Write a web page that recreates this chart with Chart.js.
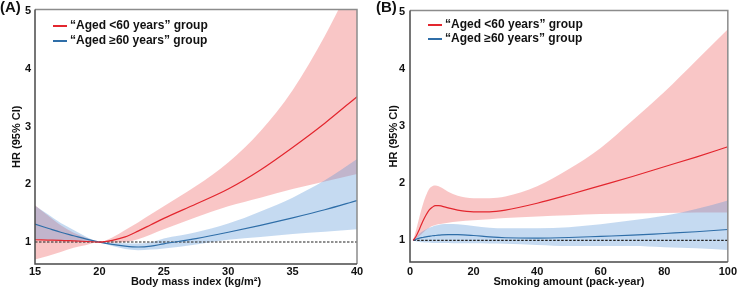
<!DOCTYPE html>
<html>
<head>
<meta charset="utf-8">
<script src="https://cdn.jsdelivr.net/npm/chart.js@4.4.1/dist/chart.umd.min.js"></script>
<style>
  body { margin: 0; background: #fff; font-family: "Liberation Sans", Arial, sans-serif; }
  #wrap { position: relative; width: 740px; height: 291px; overflow: hidden; }
  .panel { position: absolute; top: 0; width: 370px; height: 291px; }
  .tag { position: absolute; font-weight: bold; font-size: 15px; color: #111; }
  .legend { position: absolute; font-weight: bold; font-size: 12px; color: #111; }
  .legend div { white-space: nowrap; }
  .legend i { display: inline-block; width: 14px; height: 1.5px; vertical-align: middle; margin-right: 3px; }
</style>
</head>
<body>
<div id="wrap">
  <div class="panel" style="left:0"><canvas id="chartA" width="370" height="291"></canvas></div>
  <div class="panel" style="left:370px"><canvas id="chartB" width="370" height="291"></canvas></div>
  <div class="tag" style="left:0;top:-2px">(A)</div>
  <div class="tag" style="left:376px;top:-2px">(B)</div>
  <div class="legend" style="left:53px;top:18px">
    <div style="height:15px;line-height:15px"><i style="background:#e3262e"></i>“Aged &lt;60 years” group</div>
    <div style="height:15px;line-height:15px"><i style="background:#2f6ea8"></i>“Aged ≥60 years” group</div>
  </div>
  <div class="legend" style="left:428px;top:17px">
    <div style="height:14px;line-height:14px"><i style="background:#e3262e"></i>“Aged &lt;60 years” group</div>
    <div style="height:14px;line-height:14px"><i style="background:#2f6ea8"></i>“Aged ≥60 years” group</div>
  </div>
</div>
<script>
// panel A: body mass index
const bmiX        = [15, 16, 17, 18, 19, 20, 21, 22, 23, 24, 25, 27.5, 30, 32.5, 35, 37.5, 40];
const bmiRedHR    = [1.04, 1.035, 1.03, 1.02, 1.01, 1.0, 1.03, 1.09, 1.19, 1.30, 1.41, 1.66, 1.92, 2.25, 2.64, 3.06, 3.52];
const bmiRedLow   = [0.70, 0.76, 0.83, 0.90, 0.95, 1.0, 0.99, 1.0, 1.05, 1.13, 1.22, 1.43, 1.62, 1.77, 1.92, 2.05, 2.18];
const bmiRedHigh  = [1.64, 1.46, 1.29, 1.16, 1.07, 1.0, 1.08, 1.21, 1.34, 1.48, 1.62, 1.97, 2.38, 2.92, 3.63, 4.57, 5.68];
const bmiBlueHR   = [1.31, 1.24, 1.17, 1.11, 1.05, 1.0, 0.96, 0.93, 0.915, 0.93, 0.97, 1.06, 1.17, 1.29, 1.42, 1.56, 1.72];
const bmiBlueLow  = [1.05, 1.04, 1.03, 1.02, 1.01, 1.0, 0.93, 0.88, 0.86, 0.87, 0.89, 0.96, 1.04, 1.09, 1.14, 1.18, 1.22];
const bmiBlueHigh = [1.63, 1.48, 1.33, 1.21, 1.09, 1.0, 0.99, 0.98, 0.975, 0.995, 1.06, 1.17, 1.32, 1.53, 1.77, 2.07, 2.44];
const bmiRef      = [15, 40];
const bmiTicks    = [15, 20, 25, 30, 35, 40];

// panel B: smoking amount
const packX        = [1, 2, 3, 4, 5, 6, 7, 8, 9, 10, 12, 15, 20, 25, 30, 40, 50, 60, 70, 80, 90, 100];
const packRedHR    = [1.0, 1.08, 1.2, 1.33, 1.44, 1.53, 1.58, 1.61, 1.61, 1.60, 1.57, 1.53, 1.50, 1.50, 1.53, 1.65, 1.80, 1.96, 2.12, 2.29, 2.46, 2.64];
const packRedLow   = [1.0, 1.03, 1.08, 1.13, 1.18, 1.22, 1.25, 1.27, 1.28, 1.29, 1.31, 1.33, 1.35, 1.37, 1.39, 1.42, 1.44, 1.46, 1.47, 1.48, 1.49, 1.49];
const packRedHigh  = [1.0, 1.2, 1.42, 1.62, 1.78, 1.9, 1.95, 1.96, 1.95, 1.92, 1.85, 1.78, 1.74, 1.74, 1.77, 1.95, 2.25, 2.62, 3.1, 3.6, 4.15, 4.7];
const packBlueHR   = [1.0, 1.02, 1.04, 1.05, 1.06, 1.07, 1.08, 1.085, 1.09, 1.095, 1.10, 1.10, 1.085, 1.06, 1.045, 1.04, 1.05, 1.07, 1.09, 1.12, 1.15, 1.19];
const packBlueLow  = [1.0, 0.98, 0.97, 0.965, 0.96, 0.96, 0.955, 0.955, 0.955, 0.955, 0.955, 0.95, 0.95, 0.945, 0.94, 0.92, 0.90, 0.90, 0.90, 0.88, 0.86, 0.83];
const packBlueHigh = [1.0, 1.06, 1.12, 1.16, 1.19, 1.22, 1.24, 1.26, 1.27, 1.28, 1.285, 1.28, 1.25, 1.22, 1.21, 1.21, 1.23, 1.28, 1.35, 1.43, 1.55, 1.70];
const packRef      = [1, 100];
const packTicks    = [0, 20, 40, 60, 80, 100];

const hrTicks = [1, 2, 3, 4, 5];

const FONT = "'Liberation Sans', Arial, sans-serif";
const RED = '#e3262e', BLUE = '#2f6ea8';

function pts(xs, ys) {
  return xs.map((x, i) => ({ x: x, y: ys[i] }));
}

const framePlugin = {
  id: 'frame',
  afterDatasetsDraw(chart) {
    const { ctx, chartArea: a } = chart;
    ctx.save();
    ctx.lineWidth = 1.5;
    ctx.strokeStyle = '#8c8c8c';
    ctx.beginPath();
    ctx.moveTo(a.left, a.top); ctx.lineTo(a.right, a.top); ctx.lineTo(a.right, a.bottom);
    ctx.stroke();
    ctx.strokeStyle = '#4a4a4a';
    ctx.beginPath();
    ctx.moveTo(a.left, a.top); ctx.lineTo(a.left, a.bottom); ctx.lineTo(a.right, a.bottom);
    ctx.stroke();
    ctx.restore();
  }
};

function makeChart(id, o) {
  const line = (data, color) => ({
    data: data, borderColor: color, borderWidth: 1.2, pointRadius: 0,
    cubicInterpolationMode: 'monotone', fill: false
  });
  const band = (data, fill, color) => ({
    data: data, borderWidth: 0, borderColor: 'rgba(0,0,0,0)', pointRadius: 0,
    cubicInterpolationMode: 'monotone', fill: fill, backgroundColor: color
  });
  new Chart(document.getElementById(id), {
    type: 'line',
    data: {
      datasets: [
        line(pts(o.x, o.redHR), RED),
        line(pts(o.x, o.blueHR), BLUE),
        { data: pts(o.ref, [1, 1]), borderColor: '#222', borderWidth: 1.1, borderDash: [2.5, 1.5], pointRadius: 0, fill: false },
        band(pts(o.x, o.blueHigh), '+1', 'rgba(90,150,215,0.35)'),
        band(pts(o.x, o.blueLow), false, 'rgba(0,0,0,0)'),
        band(pts(o.x, o.redHigh), '+1', 'rgba(240,120,120,0.42)'),
        band(pts(o.x, o.redLow), false, 'rgba(0,0,0,0)')
      ]
    },
    options: {
      responsive: false,
      animation: false,
      layout: { padding: o.pad },
      plugins: { legend: { display: false }, tooltip: { enabled: false } },
      scales: {
        x: {
          type: 'linear', min: o.xMin, max: o.xMax,
          grid: { display: false, drawTicks: false },
          border: { display: false },
          afterBuildTicks: s => { s.ticks = o.xTicks.map(v => ({ value: v })); },
          ticks: { font: { family: FONT, size: 11, weight: 'bold' }, color: '#111', padding: o.xTickPad, maxRotation: 0, autoSkip: false },
          title: { display: true, text: o.xTitle, color: '#111', font: { family: FONT, size: 11, weight: 'bold' }, padding: { top: 0, bottom: 2 } },
          afterFit: s => { s.height = o.xHeight; }
        },
        y: {
          type: 'linear', min: 0.62, max: 5.03,
          grid: { display: false, drawTicks: false },
          border: { display: false },
          afterBuildTicks: s => { s.ticks = hrTicks.map(v => ({ value: v })); },
          ticks: { font: { family: FONT, size: 11, weight: 'bold', lineHeight: 1 }, color: '#111', padding: o.yTickPad },
          title: { display: true, text: 'HR (95% CI)', color: '#111', font: { family: FONT, size: 11, weight: 'bold' }, padding: { top: o.yTitlePad, bottom: 0 } },
          afterFit: s => { s.width = o.yWidth; }
        }
      }
    },
    plugins: [framePlugin]
  });
}

makeChart('chartA', {
  x: bmiX, redHR: bmiRedHR, redLow: bmiRedLow, redHigh: bmiRedHigh,
  blueHR: bmiBlueHR, blueLow: bmiBlueLow, blueHigh: bmiBlueHigh, ref: bmiRef,
  xMin: 15, xMax: 40, xTicks: bmiTicks, xTitle: 'Body mass index (kg/m²)',
  pad: { left: 0, right: 13, top: 5, bottom: 0 }, xHeight: 27, yWidth: 35,
  xTickPad: 1, yTickPad: 4, yTitlePad: 10
});

makeChart('chartB', {
  x: packX, redHR: packRedHR, redLow: packRedLow, redHigh: packRedHigh,
  blueHR: packBlueHR, blueLow: packBlueLow, blueHigh: packBlueHigh, ref: packRef,
  xMin: 0, xMax: 100, xTicks: packTicks, xTitle: 'Smoking amount (pack-year)',
  pad: { left: 0, right: 8, top: 5, bottom: 0 }, xHeight: 29, yWidth: 40,
  xTickPad: 3, yTickPad: 5, yTitlePad: 17
});
</script>
</body>
</html>
